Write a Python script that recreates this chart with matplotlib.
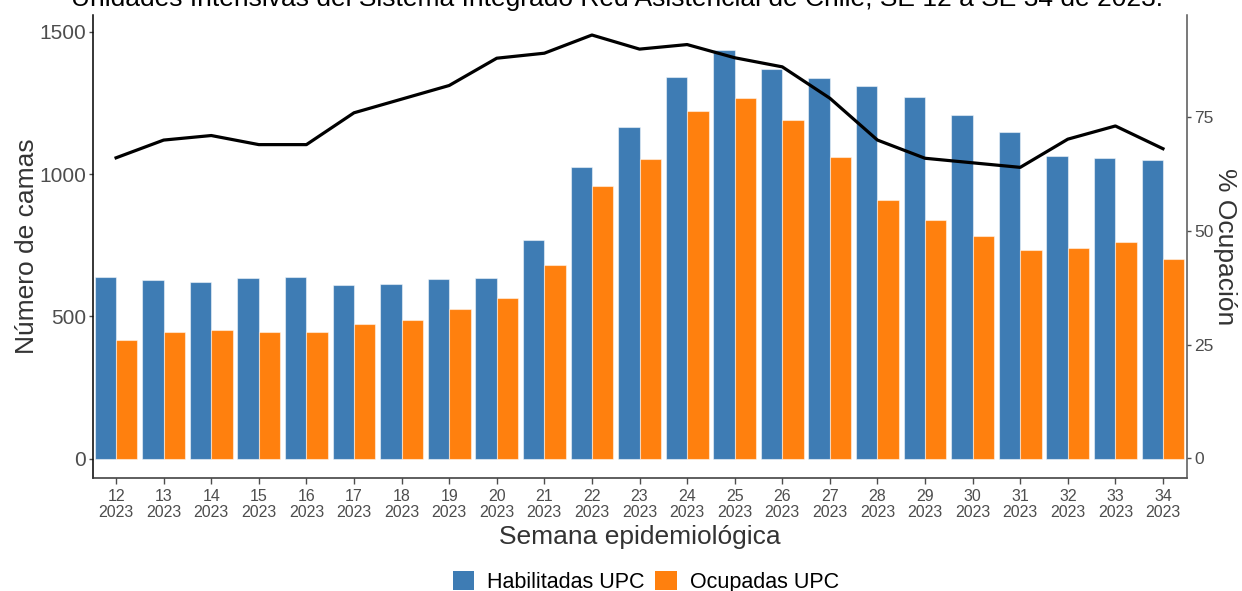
import matplotlib
matplotlib.use("Agg")
import matplotlib.pyplot as plt
import numpy as np
from matplotlib.patches import Patch

plt.rcParams['font.family'] = ['Liberation Sans', 'DejaVu Sans']

weeks = [12, 13, 14, 15, 16, 17, 18, 19, 20, 21, 22, 23, 24, 25, 26, 27, 28, 29, 30, 31, 32, 33, 34]
year = 2023
habilitadas = [637, 626, 619, 633, 637, 609, 612, 630, 633, 768, 1025, 1164, 1340, 1436,
               1368, 1336, 1310, 1272, 1206, 1149, 1063, 1056, 1048]
ocupadas = [415, 444, 451, 444, 444, 472, 486, 525, 565, 680, 958, 1053, 1222, 1268,
            1190, 1061, 909, 837, 783, 733, 740, 762, 701]
pct_ocupacion = [66.1, 70.0, 71.0, 69.0, 69.0, 76.0, 79.0, 82.0, 88.0, 89.1, 93.1, 90.0, 91.0,
                 88.1, 86.1, 79.2, 70.0, 66.0, 65.0, 64.0, 70.2, 73.1, 68.1]
tick_labels = [f"{w}\n{year}" for w in weeks]
left_ticks = [0, 500, 1000, 1500]
right_ticks = [0, 25, 50, 75]

title = "Unidades Intensivas del Sistema Integrado Red Asistencial de Chile, SE 12 a SE 34 de 2023."

c_blue = "#3E7CB4"
c_orange = "#FF800E"
tick_col = "#4D4D4D"
lab_col = "#333333"

fig = plt.figure(figsize=(12.42, 5.91), dpi=100)
ax = fig.add_axes([93/1242, 1 - 478/591, (1187-93)/1242, (478-15)/591])
ax2 = ax.twinx()

x = np.arange(len(weeks))
w = 0.45
ax.bar(x - w/2, habilitadas, width=w, color=c_blue, edgecolor=(1, 1, 1, 0.5), linewidth=0.8, zorder=2)
ax.bar(x + w/2, ocupadas, width=w, color=c_orange, edgecolor=(1, 1, 1, 0.5), linewidth=0.8, zorder=2)
ax2.plot(x, pct_ocupacion, color="black", linewidth=2.3, zorder=3)

ax.set_xlim(-0.485, len(weeks) - 1 + 0.505)
ax.set_ylim(-68.5, 1559)
ax2.set_ylim(-4.3, 97.5)

ax.set_xticks(x)
ax.set_xticklabels(tick_labels, fontsize=11.5, color=tick_col, linespacing=1.05)
ax.set_yticks(left_ticks)
ax.set_yticklabels([str(t) for t in left_ticks], fontsize=15, color=tick_col)
ax2.set_yticks(right_ticks)
ax2.set_yticklabels([str(t) for t in right_ticks], fontsize=12.5, color=tick_col)

ax.tick_params(axis='x', length=4, width=1, color=tick_col, pad=4)
ax.tick_params(axis='y', length=3, width=1, color=tick_col, pad=2)
ax2.tick_params(axis='y', length=3, width=1, color=tick_col, pad=2)

for a in (ax, ax2):
    a.spines['top'].set_visible(False)
    a.set_facecolor('none')
ax.spines['left'].set_color('black')
ax.spines['bottom'].set_color('#333333')
ax.spines['right'].set_visible(False)
ax2.spines['left'].set_visible(False)
ax2.spines['bottom'].set_visible(False)
ax2.spines['right'].set_color('#555555')
for s in ('left', 'bottom'):
    ax.spines[s].set_linewidth(1.1)
ax2.spines['right'].set_linewidth(1.1)

ax.set_xlabel("Semana epidemiológica", fontsize=19, color=lab_col, labelpad=4)
ax.set_ylabel("Número de camas", fontsize=19, color=lab_col, labelpad=0)
ax2.set_ylabel("% Ocupación", fontsize=19, color=lab_col, rotation=270, labelpad=17)

fig.text(0.497, 1 - 6/591, title, fontsize=19, ha='center', va='baseline', color='black')

handles = [Patch(facecolor=c_blue, edgecolor='none', label="Habilitadas UPC"),
           Patch(facecolor=c_orange, edgecolor='none', label="Ocupadas UPC")]
fig.legend(handles=handles, loc='center', bbox_to_anchor=(0.52, 1 - 582/591), ncol=2,
           frameon=False, fontsize=15.5, handlelength=1.0, handleheight=1.0,
           handletextpad=0.6, columnspacing=0.5, borderaxespad=0)

fig.savefig("out.png", dpi=100)
